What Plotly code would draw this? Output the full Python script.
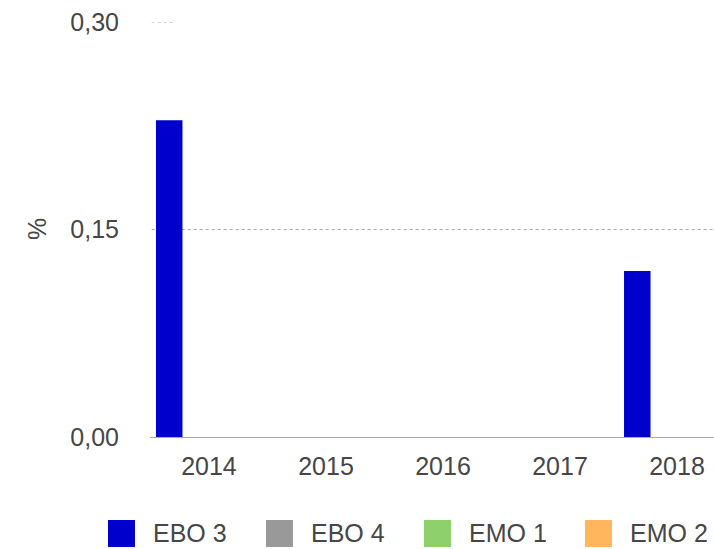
import plotly.graph_objects as go

years = [2014, 2015, 2016, 2017, 2018]
year_labels = ["2014", "2015", "2016", "2017", "2018"]
series_names = ["EBO 3", "EBO 4", "EMO 1", "EMO 2"]
series_colors = ["#0000CC", "#999999", "#8ED16C", "#FFB65C"]
ebo3 = [0.229, 0, 0, 0, 0.12]
ebo4 = [0, 0, 0, 0, 0]
emo1 = [0, 0, 0, 0, 0]
emo2 = [0, 0, 0, 0, 0]
series_values = [ebo3, ebo4, emo1, emo2]
y_ticks = [0.0, 0.15, 0.30]

W, H = 714, 549
ML, MR, MT, MB = 150, 0, 22, 112
TXT = "#464646"
FONT = "Liberation Sans, Arial, Helvetica, sans-serif"

fig = go.Figure()
for name, col, vals in zip(series_names, series_colors, series_values):
    fig.add_trace(go.Bar(x=years, y=vals, name=name, marker_color=col,
                         marker_line_width=0, showlegend=False))

# gridlines (dotted)
fig.add_shape(type="line", xref="paper", yref="y", x0=0.003, x1=1, y0=y_ticks[1], y1=y_ticks[1],
              line=dict(color="#AAAAAA", width=1, dash="dot"), layer="below")
fig.add_shape(type="line", xref="paper", yref="y", x0=0.003, x1=0.046, y0=y_ticks[2], y1=y_ticks[2],
              line=dict(color="#AAAAAA", width=1, dash="dot"), layer="below")

# manual legend
plot_h = H - MT - MB
plot_w = W - ML - MR
def px_x(p):
    return (p - ML) / plot_w
def px_y(p):
    return (H - MB - p) / plot_h

sq_left = [108, 266, 424, 585]
for i, (name, col) in enumerate(zip(series_names, series_colors)):
    x0 = sq_left[i]
    fig.add_shape(type="rect", xref="paper", yref="paper",
                  x0=px_x(x0), x1=px_x(x0 + 27), y0=px_y(520), y1=px_y(547),
                  fillcolor=col, line_width=0)
    fig.add_annotation(xref="paper", yref="paper", x=px_x(x0 + 43), y=px_y(533),
                       text=name, showarrow=False, xanchor="left", yanchor="middle",
                       font=dict(size=25, color=TXT, family=FONT))

# y axis title
fig.add_annotation(xref="paper", yref="paper", x=px_x(37), y=px_y(229),
                   text="%", showarrow=False, textangle=-90,
                   xanchor="center", yanchor="middle",
                   font=dict(size=25, color=TXT, family=FONT))

fig.update_layout(
    width=W, height=H,
    margin=dict(l=ML, r=MR, t=MT, b=MB, autoexpand=False),
    paper_bgcolor="white", plot_bgcolor="white",
    barmode="group", bargap=0.094, bargroupgap=0,
    separators=",.",
    font=dict(family=FONT, size=25, color=TXT),
    xaxis=dict(range=[2013.496, 2018.316], tickvals=years, ticktext=year_labels,
               showgrid=False, zeroline=False, showline=True, linecolor="#AAAAAA",
               linewidth=1, ticks="", ticklabelstandoff=7,
               tickfont=dict(size=25, color=TXT, family=FONT)),
    yaxis=dict(range=[0, 0.30], tickvals=y_ticks, tickformat=".2f",
               showgrid=False, zeroline=False, showline=False, ticks="",
               ticklabelstandoff=30,
               tickfont=dict(size=25, color=TXT, family=FONT)),
)

fig.write_html("out.html")
